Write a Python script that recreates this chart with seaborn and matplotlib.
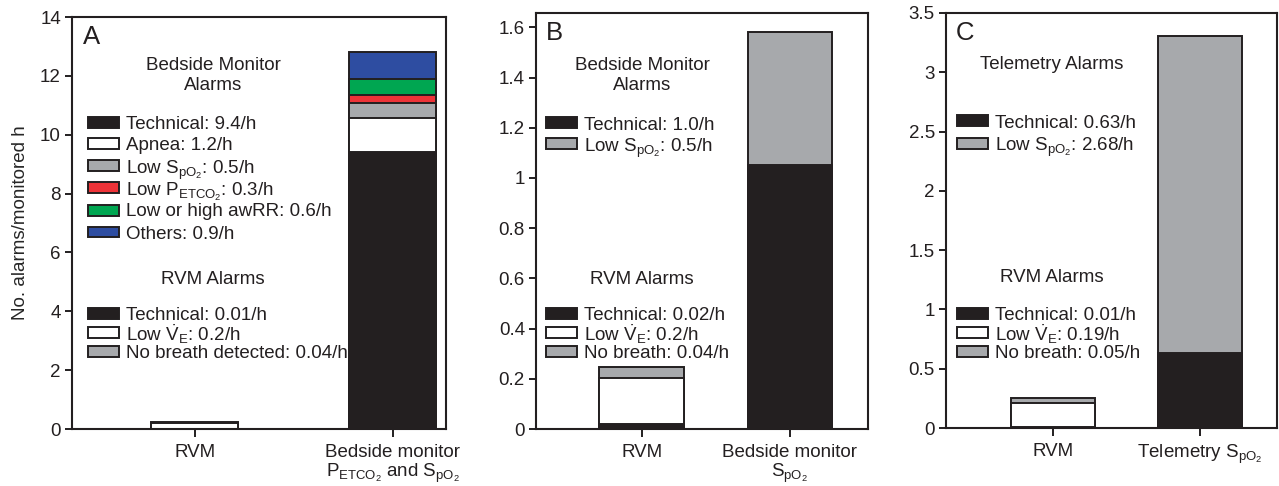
import numpy as np
import matplotlib
matplotlib.use("Agg")
import matplotlib.pyplot as plt
from matplotlib.patches import Rectangle
from matplotlib.ticker import FuncFormatter, MultipleLocator
import seaborn as sns

# ── data ────────────────────────────────────────────────────────────────────
SPO2 = r"S$_{\mathrm{pO_2}}$"
PETCO2 = r"P$_{\mathrm{ETCO_2}}$"
VE = r"$\dot{\mathrm{V}}_{\mathrm{E}}$"

a_cats = ["RVM", "Bedside monitor\n" + PETCO2 + " and " + SPO2]
b_cats = ["RVM", "Bedside monitor\n" + SPO2]
c_cats = ["RVM", "Telemetry " + SPO2]

# RVM stacks: technical, low VE, no breath
a_rvm = [0.01, 0.20, 0.04]
b_rvm = [0.02, 0.185, 0.04]
c_rvm = [0.01, 0.20, 0.045]

# monitor stacks
a_mon = [9.40, 1.17, 0.51, 0.27, 0.54, 0.92]   # technical, apnea, SpO2, PETCO2, awRR, others
b_mon = [1.05, 0.53]                            # technical, SpO2
c_mon = [0.63, 2.68]                            # technical, SpO2

a_mon_labels = ["Technical: 9.4/h", "Apnea: 1.2/h", "Low " + SPO2 + ": 0.5/h",
                "Low " + PETCO2 + ": 0.3/h", "Low or high awRR: 0.6/h", "Others: 0.9/h"]
b_mon_labels = ["Technical: 1.0/h", "Low " + SPO2 + ": 0.5/h"]
c_mon_labels = ["Technical: 0.63/h", "Low " + SPO2 + ": 2.68/h"]
a_rvm_labels = ["Technical: 0.01/h", "Low " + VE + ": 0.2/h", "No breath detected: 0.04/h"]
b_rvm_labels = ["Technical: 0.02/h", "Low " + VE + ": 0.2/h", "No breath: 0.04/h"]
c_rvm_labels = ["Technical: 0.01/h", "Low " + VE + ": 0.19/h", "No breath: 0.05/h"]

# ── style ───────────────────────────────────────────────────────────────────
INK = "#231f20"
BLACK, WHITE, GREY = "#231f20", "#ffffff", "#a7a9ac"
RED, GREEN, BLUE = "#ee3338", "#00a651", "#2e4da1"
rvm_colors = [BLACK, WHITE, GREY]
a_mon_colors = [BLACK, WHITE, GREY, RED, GREEN, BLUE]
bc_mon_colors = [BLACK, GREY]

FS = 13.5

sns.set_style("ticks")
plt.rcParams["font.family"] = ["Liberation Sans", "DejaVu Sans"]
plt.rcParams["mathtext.fontset"] = "custom"
plt.rcParams["mathtext.rm"] = "Liberation Sans"
plt.rcParams["mathtext.it"] = "Liberation Sans:italic"
plt.rcParams["mathtext.bf"] = "Liberation Sans:bold"
plt.rcParams["text.color"] = INK

W, H = 1279, 486
fig = plt.figure(figsize=(W / 100, H / 100), dpi=100)


def px_axes(left, top, right, bottom):
    return fig.add_axes([left / W, 1 - bottom / H, (right - left) / W, (bottom - top) / H])


def stacked_bar(ax, cats, idx, values, colors, width):
    # draw cumulative tops from the highest down so every segment keeps its outline
    tops = np.cumsum(values)
    for top, col in zip(tops[::-1], colors[::-1]):
        sns.barplot(x=[cats[idx]], y=[top], order=cats, color=col, saturation=1,
                    width=width, edgecolor=INK, linewidth=1.4, errorbar=None, ax=ax)


def legend_block(x_center, title_y, title, hx, ys, labels, colors):
    fig.text(x_center / W, 1 - title_y / H, title, ha="center", va="center",
             fontsize=FS, linespacing=1.22)
    for y, lab, col in zip(ys, labels, colors):
        fig.add_artist(Rectangle((hx / W, 1 - (y + 5.5) / H), 31 / W, 11 / H,
                                 transform=fig.transFigure, facecolor=col,
                                 edgecolor=INK, linewidth=1.4))
        fig.text((hx + 38) / W, 1 - y / H, lab, ha="left", va="center_baseline",
                 fontsize=FS)


def style_axes(ax, ymax, step, xlim, letter):
    ax.set_ylim(0, ymax)
    ax.set_xlim(*xlim)
    ax.yaxis.set_major_locator(MultipleLocator(step))
    ax.yaxis.set_major_formatter(FuncFormatter(lambda v, p: f"{v:g}"))
    ax.set_xlabel("")
    ax.set_ylabel("")
    for s in ax.spines.values():
        s.set_visible(True)
        s.set_linewidth(1.5)
        s.set_color(INK)
    ax.tick_params(direction="out", length=5, width=1.4, labelsize=FS,
                   colors=INK, pad=3)
    ax.tick_params(axis="x", length=6, pad=5)
    for lab in ax.get_xticklabels():
        lab.set_linespacing(1.05)
    ax.text(0.03, 0.935, letter, transform=ax.transAxes, fontsize=18.5,
            ha="left", va="baseline")


# ── panel A ─────────────────────────────────────────────────────────────────
axA = px_axes(72, 17, 446, 429)
stacked_bar(axA, a_cats, 0, a_rvm, rvm_colors, 0.44)
stacked_bar(axA, a_cats, 1, a_mon, a_mon_colors, 0.44)
style_axes(axA, 14, 2, (-0.62, 1.27), "A")
axA.set_ylabel("No. alarms/monitored h", fontsize=FS, labelpad=8)

legend_block(213, 75.5, "Bedside Monitor\nAlarms", 88,
             [122, 144, 166, 188, 210, 232], a_mon_labels, a_mon_colors)
legend_block(213, 279, "RVM Alarms", 88, [313, 332, 351], a_rvm_labels, rvm_colors)

# ── panel B ─────────────────────────────────────────────────────────────────
axB = px_axes(536, 13, 868, 429)
stacked_bar(axB, b_cats, 0, b_rvm, rvm_colors, 0.574)
stacked_bar(axB, b_cats, 1, b_mon, bc_mon_colors, 0.574)
style_axes(axB, 1.657, 0.2, (-0.716, 1.527), "B")

legend_block(642, 75.5, "Bedside Monitor\nAlarms", 546, [123, 144], b_mon_labels, bc_mon_colors)
legend_block(642, 279, "RVM Alarms", 546, [313, 332, 351], b_rvm_labels, rvm_colors)

# ── panel C ─────────────────────────────────────────────────────────────────
axC = px_axes(946, 13, 1277, 428)
stacked_bar(axC, c_cats, 0, c_rvm, rvm_colors, 0.578)
stacked_bar(axC, c_cats, 1, c_mon, bc_mon_colors, 0.578)
style_axes(axC, 3.5, 0.5, (-0.728, 1.524), "C")

legend_block(1052, 64, "Telemetry Alarms", 957, [121, 143], c_mon_labels, bc_mon_colors)
legend_block(1052, 278, "RVM Alarms", 957, [313, 332, 351], c_rvm_labels, rvm_colors)

fig.savefig("out.png", dpi=100)
